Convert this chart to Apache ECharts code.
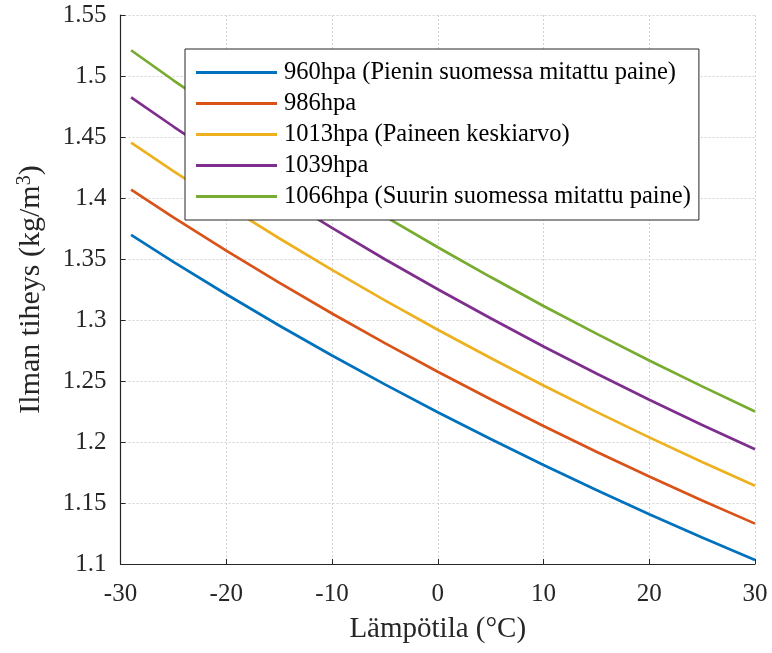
<!DOCTYPE html>
<html>
<head>
<meta charset="utf-8">
<script src="https://cdn.jsdelivr.net/npm/echarts@6/dist/echarts.min.js"></script>
<style>html,body{margin:0;padding:0;background:#fff}#c{width:772px;height:653px}</style>
</head>
<body>
<div id="c"></div>
<script>
const temps = [-29, -25, -20, -15, -10, -5, 0, 5, 10, 15, 20, 25, 30];
const seriesNames = [
  '960hpa (Pienin suomessa mitattu paine)',
  '986hpa',
  '1013hpa (Paineen keskiarvo)',
  '1039hpa',
  '1066hpa (Suurin suomessa mitattu paine)'
];
const d960  = [1.3698, 1.3477, 1.3211, 1.2955, 1.2709, 1.2472, 1.2244, 1.2024, 1.1811, 1.1606, 1.1408, 1.1217, 1.1032];
const d986  = [1.4069, 1.3842, 1.3569, 1.3306, 1.3053, 1.2810, 1.2576, 1.2350, 1.2131, 1.1920, 1.1717, 1.1521, 1.1331];
const d1013 = [1.4454, 1.4221, 1.3940, 1.3670, 1.3411, 1.3161, 1.2920, 1.2688, 1.2463, 1.2247, 1.2038, 1.1836, 1.1641];
const d1039 = [1.4825, 1.4586, 1.4298, 1.4021, 1.3755, 1.3498, 1.3252, 1.3014, 1.2783, 1.2561, 1.2347, 1.2140, 1.1940];
const d1066 = [1.5211, 1.4965, 1.4670, 1.4386, 1.4112, 1.3849, 1.3596, 1.3352, 1.3115, 1.2888, 1.2668, 1.2456, 1.2250];
const xTicks = [-30, -20, -10, 0, 10, 20, 30];
const yTicks = [1.1, 1.15, 1.2, 1.25, 1.3, 1.35, 1.4, 1.45, 1.5, 1.55];
const colors = ['#0072BD', '#D95319', '#EDB120', '#7E2F8E', '#77AC30'];
const allData = [d960, d986, d1013, d1039, d1066];

const FONT = "'Liberation Serif', 'Times New Roman', serif";
const TXT = '#262626';

const chart = echarts.init(document.getElementById('c'), null, {renderer: 'canvas'});
chart.setOption({
  animation: false,
  backgroundColor: '#fff',
  grid: {left: 120.5, right: 17, top: 15, bottom: 89, containLabel: false},
  xAxis: {
    type: 'value', min: xTicks[0], max: xTicks[xTicks.length - 1], interval: 10,
    name: 'Lämpötila (°C)', nameLocation: 'middle', nameGap: 51,
    nameTextStyle: {fontFamily: FONT, fontSize: 29, color: TXT},
    axisLine: {show: true, onZero: false, lineStyle: {color: TXT, width: 1.2}},
    axisTick: {show: true, inside: true, length: 5, lineStyle: {color: TXT}},
    axisLabel: {fontFamily: FONT, fontSize: 25, color: TXT, margin: 18},
    splitLine: {show: true, lineStyle: {color: '#d4d4d4', type: [2, 2], width: 1}}
  },
  yAxis: {
    type: 'value', min: yTicks[0], max: yTicks[yTicks.length - 1], interval: 0.05,
    name: 'Ilman tiheys (kg/m{sup|3})', nameLocation: 'middle', nameGap: 72,
    nameTextStyle: {fontFamily: FONT, fontSize: 30, color: TXT,
      rich: {sup: {fontFamily: FONT, fontSize: 20, color: TXT, verticalAlign: 'top', padding: [0, 0, 14, 0]}}},
    axisLine: {show: true, onZero: false, lineStyle: {color: TXT, width: 1.2}},
    axisTick: {show: true, inside: true, length: 5, lineStyle: {color: TXT}},
    axisLabel: {fontFamily: FONT, fontSize: 25, color: TXT, margin: 14,
      formatter: v => String(parseFloat(Number(v).toFixed(2)))},
    splitLine: {show: true, lineStyle: {color: '#d4d4d4', type: [2, 2], width: 1}}
  },
  legend: {
    show: true, orient: 'vertical', left: 185, top: 49,
    backgroundColor: '#fff', borderColor: '#262626', borderWidth: 1,
    padding: [8, 8, 8, 11], itemGap: 0, itemWidth: 81, itemHeight: 3,
    icon: 'rect',
    textStyle: {fontFamily: FONT, fontSize: 24.5, color: '#000', lineHeight: 31, padding: [0, 0, 0, 2]},
    data: seriesNames
  },
  series: seriesNames.map((n, i) => ({
    name: n, type: 'line', symbol: 'none', smooth: false,
    color: colors[i],
    itemStyle: {color: colors[i]},
    lineStyle: {color: colors[i], width: 2.7},
    data: temps.map((t, j) => [t, allData[i][j]]),
    z: 2
  }))
});
</script>
</body>
</html>
